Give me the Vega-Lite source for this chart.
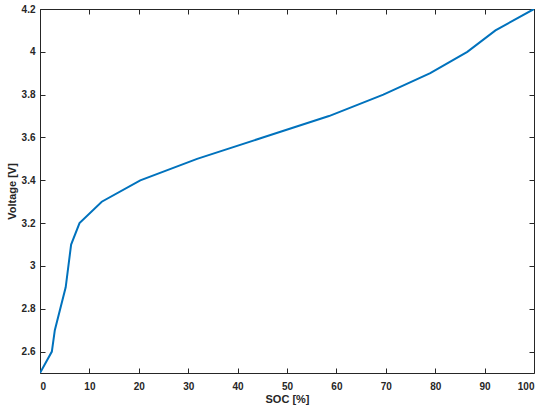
{
  "$schema": "https://vega.github.io/schema/vega-lite/v6.json",
  "width": 494,
  "height": 364,
  "autosize": {"type": "none"},
  "padding": {"left": 40, "top": 9, "right": 16, "bottom": 36},
  "background": "white",
  "config": {
    "view": {"stroke": null},
    "axis": {
      "domainColor": "#262626",
      "domainWidth": 1,
      "tickColor": "#262626",
      "tickWidth": 1,
      "tickSize": -5,
      "labelFont": "Liberation Sans",
      "labelFontWeight": "bold",
      "labelFontSize": 10,
      "labelColor": "#262626",
      "titleFont": "Liberation Sans",
      "titleFontWeight": "bold",
      "titleFontSize": 11,
      "titleColor": "#262626",
      "grid": false
    }
  },
  "data": {
    "values": [
      {"soc": 0, "v": 2.5},
      {"soc": 2.4, "v": 2.6},
      {"soc": 3.0, "v": 2.7},
      {"soc": 5.2, "v": 2.9},
      {"soc": 6.3, "v": 3.1},
      {"soc": 8.0, "v": 3.2},
      {"soc": 12.5, "v": 3.3},
      {"soc": 20.3, "v": 3.4},
      {"soc": 31.8, "v": 3.5},
      {"soc": 45.1, "v": 3.6},
      {"soc": 58.5, "v": 3.7},
      {"soc": 69.5, "v": 3.8},
      {"soc": 79.0, "v": 3.9},
      {"soc": 86.5, "v": 4.0},
      {"soc": 92.2, "v": 4.1},
      {"soc": 100, "v": 4.2}
    ]
  },
  "layer": [
    {
      "mark": {"type": "line", "color": "#0072BD", "strokeWidth": 2, "clip": true},
      "encoding": {
        "x": {
          "field": "soc", "type": "quantitative",
          "scale": {"domain": [0, 100], "nice": false, "zero": false},
          "axis": {"title": "SOC [%]", "values": [0,10,20,30,40,50,60,70,80,90,100], "labelPadding": 13, "titlePadding": 2, "orient": "bottom"}
        },
        "y": {
          "field": "v", "type": "quantitative",
          "scale": {"domain": [2.5, 4.2], "nice": false, "zero": false},
          "axis": {"title": "Voltage [V]", "format": ".1~f", "values": [2.6,2.8,3,3.2,3.4,3.6,3.8,4,4.2], "labelPadding": 10, "titlePadding": 4, "orient": "left"}
        }
      }
    },
    {
      "mark": {"type": "line", "opacity": 0},
      "encoding": {
        "x": {
          "field": "soc", "type": "quantitative",
          "axis": {"title": null, "labels": false, "orient": "top", "values": [0,10,20,30,40,50,60,70,80,90,100]}
        },
        "y": {
          "field": "v", "type": "quantitative",
          "axis": {"title": null, "labels": false, "orient": "right", "values": [2.6,2.8,3,3.2,3.4,3.6,3.8,4,4.2]}
        }
      }
    }
  ],
  "resolve": {"axis": {"x": "independent", "y": "independent"}}
}
